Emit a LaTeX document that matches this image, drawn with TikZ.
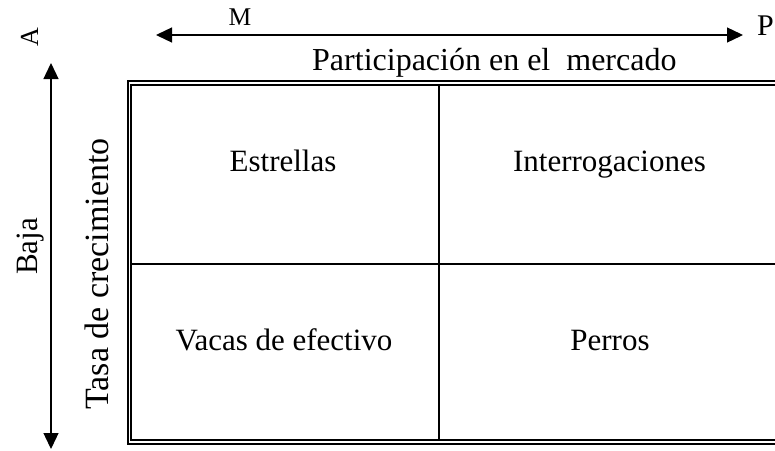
\documentclass[tikz,border=0pt]{standalone}
\usepackage{fontspec}
\setmainfont{Liberation Serif}
\usetikzlibrary{arrows.meta}
\tikzset{
  arr/.style={line width=1.3pt, {Triangle[length=16pt,width=15pt]}-{Triangle[length=16pt,width=15pt]}},
  frame/.style={line width=2pt},
  grid/.style={line width=2.2pt},
  big/.style={font=\fontsize{31}{36}\selectfont, inner sep=0pt, anchor=base},
}
\begin{document}
\begin{tikzpicture}[x=1pt,y=-1pt]
\useasboundingbox (0,0) rectangle (775,450);
% arrows
\coordinate (hl) at (156,35);
\coordinate (hr) at (743,35);
\coordinate (vt) at (51,63);
\coordinate (vb) at (51,449);
\draw[arr] (hl) -- (hr);
\draw[arr] (vt) -- (vb);
% labels on axes
\node[inner sep=0pt, anchor=base, font=\fontsize{25.5}{30}\selectfont] (m) at (240,25) {M};
\node[inner sep=0pt, anchor=base east, font=\fontsize{30}{36}\selectfont] (p) at (774,35) {P};
\node[inner sep=0pt, anchor=base, rotate=90, font=\fontsize{26}{30}\selectfont] (a) at (38,37) {A};
\node[big, anchor=base west, font=\fontsize{32}{38}\selectfont] (part) at (312,70) {Participación en el\ \ mercado};
\node[big, rotate=90] (baja) at (37,246.5) {Baja};
\node[big, rotate=90, font=\fontsize{34}{40}\selectfont] (tasa) at (108,274) {Tasa de crecimiento};
% double frame
\draw[frame] (128,81) rectangle (800,443.5);
\draw[frame] (131,85) rectangle (800,440.3);
\coordinate (gt) at (439,85);
\coordinate (gb) at (439,440.3);
\coordinate (gl) at (131,263.7);
\coordinate (gr) at (800,263.7);
\draw[grid] (gt) -- (gb);
\draw[grid] (gl) -- (gr);
% cells
\node[big] (est) at (283,171) {Estrellas};
\node[big] (int) at (609.5,171) {Interrogaciones};
\node[big] (vac) at (284,350) {Vacas de efectivo};
\node[big] (per) at (610,350) {Perros};
\end{tikzpicture}
\end{document}
